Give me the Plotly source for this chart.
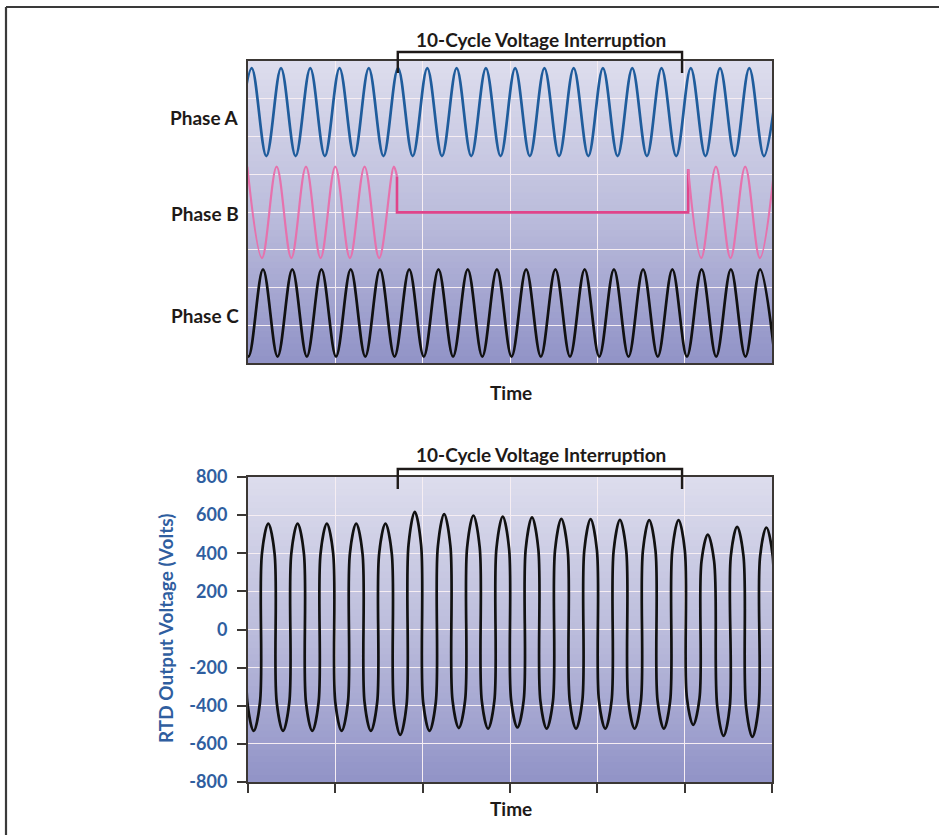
import plotly.graph_objects as go

W, H = 939, 835

# ---------------- data ----------------
# Top panel: time in grid units (0..6), level in grid units (0..8)
# Phase A: alternating trough / peak extremes
phase_a_t = [-0.126, 0.042, 0.210, 0.378, 0.545, 0.713, 0.880, 1.048, 1.216, 1.383,
             1.551, 1.718, 1.886, 2.053, 2.221, 2.389, 2.556, 2.724, 2.892, 3.059,
             3.227, 3.394, 3.562, 3.729, 3.897, 4.064, 4.232, 4.400, 4.568, 4.735,
             4.903, 5.070, 5.238, 5.405, 5.573, 5.740, 5.908, 6.076]
phase_a_v = [5.48, 7.81, 5.48, 7.81, 5.48, 7.81, 5.48, 7.81, 5.48, 7.81,
             5.48, 7.81, 5.48, 7.81, 5.48, 7.81, 5.48, 7.81, 5.48, 7.81,
             5.48, 7.81, 5.48, 7.81, 5.48, 7.81, 5.48, 7.81, 5.48, 7.81,
             5.48, 7.81, 5.48, 7.81, 5.48, 7.81, 5.48, 7.81]

# Phase B: before interruption, the interruption (flat), after interruption
phase_b1_t = [-0.008, 0.160, 0.328, 0.496, 0.664, 0.831, 0.999, 1.167, 1.335, 1.502, 1.670, 1.706]
phase_b1_v = [5.20, 2.78, 5.20, 2.78, 5.20, 2.78, 5.20, 2.78, 5.20, 2.78, 5.20, 4.94]
phase_b_gap_t = [1.706, 1.706, 5.040, 5.040]
phase_b_gap_v = [4.94, 3.99, 3.99, 5.13]
phase_b2_t = [5.040, 5.190, 5.358, 5.525, 5.693, 5.861, 6.029]
phase_b2_v = [5.13, 2.78, 5.20, 2.78, 5.20, 2.78, 5.20]

# Phase C: alternating peak / trough extremes
phase_c_t = [-0.163, 0.005, 0.172, 0.339, 0.507, 0.674, 0.841, 1.008, 1.176, 1.343,
             1.511, 1.678, 1.846, 2.013, 2.181, 2.348, 2.516, 2.683, 2.850, 3.018,
             3.185, 3.353, 3.520, 3.687, 3.855, 4.022, 4.190, 4.357, 4.524, 4.692,
             4.859, 5.026, 5.194, 5.361, 5.529, 5.696, 5.864, 6.031]
phase_c_v = [2.48, 0.17, 2.48, 0.17, 2.48, 0.17, 2.48, 0.17, 2.48, 0.17,
             2.48, 0.17, 2.48, 0.17, 2.48, 0.17, 2.48, 0.17, 2.48, 0.17,
             2.48, 0.17, 2.48, 0.17, 2.48, 0.17, 2.48, 0.17, 2.48, 0.17,
             2.48, 0.17, 2.48, 0.17, 2.48, 0.17, 2.48, 0.17]

# Bottom panel: RTD output voltage extremes (Volts)
rtd_t = [-0.103, 0.065, 0.232, 0.401, 0.568, 0.736, 0.903, 1.072, 1.239, 1.407,
         1.574, 1.743, 1.910, 2.078, 2.246, 2.414, 2.581, 2.749, 2.917, 3.085,
         3.252, 3.420, 3.588, 3.756, 3.923, 4.091, 4.259, 4.427, 4.594, 4.762,
         4.930, 5.098, 5.265, 5.445, 5.601, 5.775, 5.936, 6.103]
rtd_v = [555, -532, 555, -532, 555, -532, 555, -532, 555, -532,
         555, -553, 617, -532, 605, -517, 598, -520, 592, -514,
         588, -520, 580, -520, 579, -520, 575, -520, 574, -520,
         574, -500, 498, -558, 538, -563, 535, -560]
# shape of each RTD lobe: the sides are almost vertical,
# each rounded cap is ~0.072 grid units wide (half) and starts at ~72 % of the extreme
rtd_cap_halfwidth = 0.072
rtd_cap_ratio = 0.72

y_tick_vals = [-800, -600, -400, -200, 0, 200, 400, 600, 800]
y_tick_text = ["-800", "-600", "-400", "-200", "0", "200", "400", "600", "800"]
phase_labels = ["Phase A", "Phase B", "Phase C"]
bracket_span = [1.715, 4.97]
title_text = "10-Cycle Voltage Interruption"
x_title = "Time"
y_title = "RTD Output Voltage (Volts)"

# ---------------- helpers ----------------
def px_x(x):
    return x / W

def px_y(y):
    return 1 - y / H

FONT = "Lato"
DARK = "#1e1a18"
BLUE = "#2f5e9f"
GRID = "#f6eef3"
FRAME = "#3b3734"

# path of the RTD trace: each extreme plus the two shoulders of its cap
rtd_x, rtd_y = [], []
for t, v in zip(rtd_t, rtd_v):
    rtd_x += [t - rtd_cap_halfwidth, t, t + rtd_cap_halfwidth]
    rtd_y += [v * rtd_cap_ratio, v, v * rtd_cap_ratio]

fig = go.Figure()

line_kw = dict(mode="lines", hoverinfo="skip", showlegend=False)
fig.add_trace(go.Scatter(x=phase_a_t, y=phase_a_v, xaxis="x", yaxis="y",
                         line=dict(color="#1f5c9c", width=2.7, shape="spline", smoothing=1.0), **line_kw))
fig.add_trace(go.Scatter(x=phase_b1_t, y=phase_b1_v, xaxis="x", yaxis="y",
                         line=dict(color="#e672ad", width=2.2, shape="spline", smoothing=1.0), **line_kw))
fig.add_trace(go.Scatter(x=phase_b_gap_t, y=phase_b_gap_v, xaxis="x", yaxis="y",
                         line=dict(color="#e0448a", width=2.6), **line_kw))
fig.add_trace(go.Scatter(x=phase_b2_t, y=phase_b2_v, xaxis="x", yaxis="y",
                         line=dict(color="#e672ad", width=2.2, shape="spline", smoothing=1.0), **line_kw))
fig.add_trace(go.Scatter(x=phase_c_t, y=phase_c_v, xaxis="x", yaxis="y",
                         line=dict(color="#111111", width=2.7, shape="spline", smoothing=1.0), **line_kw))
fig.add_trace(go.Scatter(x=rtd_x, y=rtd_y, xaxis="x2", yaxis="y2",
                         line=dict(color="#111111", width=2.7, shape="spline", smoothing=1.0), **line_kw))

x_dom = [px_x(248), px_x(772)]
top_dom = [px_y(363), px_y(61)]
bot_dom = [px_y(782), px_y(477)]

axis_common = dict(showline=True, mirror=True, linecolor=FRAME, linewidth=2,
                   showgrid=True, gridcolor=GRID, gridwidth=1.3, zeroline=False,
                   fixedrange=True, automargin=False)

fig.update_layout(
    width=W, height=H,
    autosize=False,
    margin=dict(l=0, r=0, t=0, b=0, pad=0, autoexpand=False),
    paper_bgcolor="white",
    plot_bgcolor="#c4c5e0",
    showlegend=False,
    xaxis=dict(domain=x_dom, anchor="y", range=[0, 6], tick0=0, dtick=1,
               showticklabels=False, ticks="", **axis_common),
    yaxis=dict(domain=top_dom, anchor="x", range=[0, 8], tick0=0, dtick=1,
               showticklabels=False, ticks="", **axis_common),
    xaxis2=dict(domain=x_dom, anchor="y2", range=[0, 6], tick0=0, dtick=1,
                showticklabels=False, ticks="outside", ticklen=9, tickwidth=2,
                tickcolor=FRAME, **axis_common),
    yaxis2=dict(domain=bot_dom, anchor="x2", range=[-800, 800],
                tickvals=y_tick_vals, ticktext=y_tick_text,
                ticks="outside", ticklen=9, tickwidth=2, tickcolor=FRAME,
                ticklabelstandoff=6,
                tickfont=dict(family=FONT, size=18, color=BLUE, weight="bold"),
                **axis_common),
)

# ---- gradient backgrounds (below gridlines) ----
def lerp(c1, c2, f):
    return tuple(round(a + (b - a) * f) for a, b in zip(c1, c2))

top_col = (221, 221, 237)
mid_col = (188, 189, 220)
bot_col = (145, 147, 199)
shapes = []
N = 48
for xr, yr in (("x domain", "y domain"), ("x2 domain", "y2 domain")):
    for i in range(N):
        f = (i + 0.5) / N  # 0 at top, 1 at bottom
        if f < 0.5:
            c = lerp(top_col, mid_col, f / 0.5)
        else:
            c = lerp(mid_col, bot_col, (f - 0.5) / 0.5)
        y1 = 1 - i / N
        y0 = 1 - (i + 1) / N
        shapes.append(dict(type="rect", xref=xr, yref=yr, x0=0, x1=1,
                           y0=y0 - 0.002, y1=y1 + 0.002, layer="below",
                           line=dict(width=0), fillcolor="rgb(%d,%d,%d)" % c))

# ---- brackets ----
def bracket(xref, y_low, y_high):
    a, b = bracket_span
    return dict(type="path", xref=xref, yref="paper",
                path=f"M {a},{px_y(y_low)} L {a},{px_y(y_high)} L {b},{px_y(y_high)} L {b},{px_y(y_low)}",
                line=dict(color=DARK, width=2.4), layer="above")

shapes.append(bracket("x", 73, 52))
shapes.append(bracket("x2", 489, 469))

# ---- outer frame (left and top) ----
shapes.append(dict(type="line", xref="paper", yref="paper", x0=px_x(6), x1=px_x(6),
                   y0=0, y1=px_y(7), line=dict(color="#3a3a3a", width=2.2)))
shapes.append(dict(type="line", xref="paper", yref="paper", x0=px_x(6), x1=1,
                   y0=px_y(7), y1=px_y(7), line=dict(color="#3a3a3a", width=2.2)))

fig.update_layout(shapes=shapes)

# ---- text ----
ann = []
def text(t, x, y, size=19, color=DARK, xanchor="center", angle=0):
    ann.append(dict(text=t, x=px_x(x), y=px_y(y), xref="paper", yref="paper",
                    showarrow=False, xanchor=xanchor, yanchor="middle", textangle=angle,
                    font=dict(family=FONT, size=size, color=color, weight="bold")))

text(title_text, 541, 39)
text(title_text, 541, 455)
for lab, yy in zip(phase_labels, [118, 213, 315]):
    text(lab, 241, yy, xanchor="right")
text(x_title, 511, 392)
text(x_title, 511, 808)
text(y_title, 165, 629, color=BLUE, angle=-90)
fig.update_layout(annotations=ann)

post = ("document.documentElement.style.margin='0';"
        "document.body.style.margin='0';document.body.style.padding='0';"
        "document.body.style.overflow='hidden';")
fig.write_html("out.html", post_script=post, config={"displayModeBar": False})
